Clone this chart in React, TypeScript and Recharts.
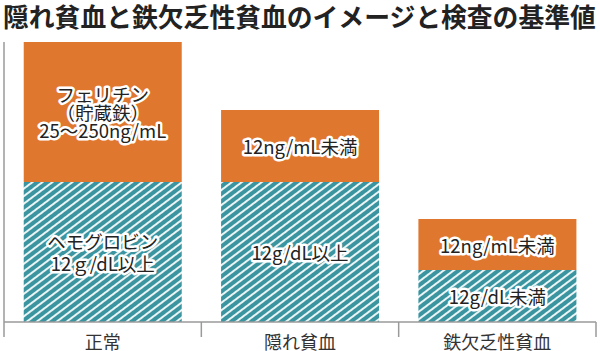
import React from "react";
import { Bar, BarChart, LabelList, XAxis, YAxis } from "recharts";

const categories = ["正常", "隠れ貧血", "鉄欠乏性貧血"];
const hemoglobin = [140, 140, 52];
const ferritin = [140, 72, 51];
const hemoglobinLabels = [["ヘモグロビン", "12ｇ/dL以上"], ["12g/dL以上"], ["12g/dL未満"]];
const ferritinLabels = [["フェリチン", "（貯蔵鉄）", "25～250ng/mL"], ["12ng/mL未満"], ["12ng/mL未満"]];

const title = "隠れ貧血と鉄欠乏性貧血のイメージと検査の基準値";

const WIDTH = 600;
const HEIGHT = 351;
const MARGIN = { top: 42, right: 4, left: 0, bottom: 0 };
const Y_AXIS_WIDTH = 4;
const FONT = '"Noto Sans CJK JP", "Noto Sans", sans-serif';
const ORANGE = "#E0772F";
const TEAL = "#3A95A0";
const AXIS = "#9a9a9a";

const data = categories.map((name, i) => ({
  name,
  hemoglobin: hemoglobin[i],
  ferritin: ferritin[i],
}));

const bandWidth = (WIDTH - MARGIN.left - MARGIN.right - Y_AXIS_WIDTH) / categories.length;

function makeLabel(lines: string[][], lineHeight: number) {
  return (props: any) => {
    const { x, y, width, height, index } = props;
    const rows = lines[index] ?? [];
    const cx = x + width / 2;
    const cy = y + height / 2;
    const start = cy - ((rows.length - 1) * lineHeight) / 2;
    return (
      <text
        textAnchor="middle"
        dominantBaseline="central"
        fontFamily={FONT}
        fontSize={18.5}
        fill="#222"
        stroke="#fff"
        strokeWidth={5}
        strokeLinejoin="round"
        paintOrder="stroke"
      >
        {rows.map((r, k) => (
          <tspan key={k} x={cx} y={start + k * lineHeight}>
            {r}
          </tspan>
        ))}
      </text>
    );
  };
}

function CategoryTick(props: any) {
  const { x, y, payload, index } = props;
  const left = x - bandWidth / 2;
  const right = x + bandWidth / 2;
  return (
    <g>
      <line x1={left} y1={y} x2={left} y2={y + 15} stroke={AXIS} strokeWidth={1.5} />
      {index === categories.length - 1 && (
        <line x1={right} y1={y} x2={right} y2={y + 15} stroke={AXIS} strokeWidth={1.5} />
      )}
      <text
        x={x}
        y={y + 19}
        textAnchor="middle"
        dominantBaseline="central"
        fontFamily={FONT}
        fontSize={18}
        fill="#333"
      >
        {payload.value}
      </text>
    </g>
  );
}

export default function App() {
  return (
    <div style={{ position: "absolute", left: 0, top: 0, width: WIDTH, height: HEIGHT, background: "#fff" }}>
      <div
        style={{
          position: "absolute",
          left: 3,
          top: 0,
          fontFamily: FONT,
          fontSize: 25.8,
          fontWeight: 700,
          color: "#222",
          lineHeight: "32px",
          whiteSpace: "nowrap",
        }}
      >
        {title}
      </div>
      <BarChart width={WIDTH} height={HEIGHT} data={data} margin={MARGIN} barCategoryGap="10%">
        <defs>
          <pattern id="hatch" patternUnits="userSpaceOnUse" width={6} height={6} patternTransform="rotate(53)">
            <rect width={6} height={6} fill={TEAL} />
            <line x1={3} y1={0} x2={3} y2={6} stroke="#fff" strokeWidth={1.8} />
          </pattern>
        </defs>
        <XAxis
          dataKey="name"
          height={29}
          tickSize={0}
          tickMargin={0}
          tickLine={false}
          axisLine={{ stroke: AXIS, strokeWidth: 1.5 }}
          tick={<CategoryTick />}
          interval={0}
        />
        <YAxis
          width={Y_AXIS_WIDTH}
          domain={[0, 280]}
          tick={false}
          tickLine={false}
          axisLine={{ stroke: AXIS, strokeWidth: 1.5 }}
        />
        <Bar dataKey="hemoglobin" stackId="a" fill="url(#hatch)" isAnimationActive={false}>
          <LabelList dataKey="hemoglobin" content={makeLabel(hemoglobinLabels, 22)} />
        </Bar>
        <Bar dataKey="ferritin" stackId="a" fill={ORANGE} isAnimationActive={false}>
          <LabelList dataKey="ferritin" content={makeLabel(ferritinLabels, 18)} />
        </Bar>
      </BarChart>
    </div>
  );
}
